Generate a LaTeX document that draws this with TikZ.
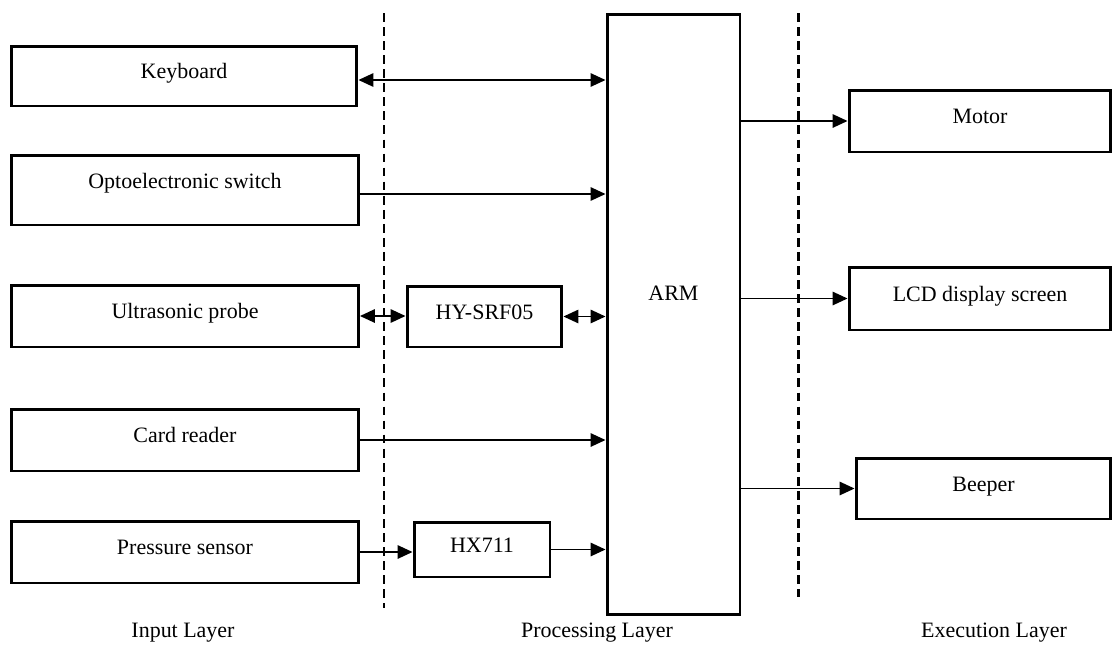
\documentclass[tikz,border=0pt]{standalone}
\usepackage{fontspec}
\setmainfont{Liberation Serif}
\usetikzlibrary{arrows.meta}
\begin{document}
\begin{tikzpicture}[x=0.02cm, y=-0.02cm,
    block/.style={draw, line width=1.7pt, inner sep=0pt, text height=0.7em, text depth=0.4em,
                  font=\fontsize{12.5}{15}\selectfont},
    link/.style={line width=0.9pt, -{Triangle[length=0.3cm, width=0.27cm]}},
    twoway/.style={link, {Triangle[length=0.3cm, width=0.27cm]}-{Triangle[length=0.3cm, width=0.27cm]}},
    layerline/.style={line width=1.7pt, dash pattern=on 5pt off 3pt},
    layertext/.style={font=\fontsize{12.5}{15}\selectfont}]
    \useasboundingbox (0,0) rectangle (1112,646);

    %Eingabe
    \node[block, minimum width=6.92cm, minimum height=1.2cm] (kb) at (184,76) {Keyboard};
    \node[block, minimum width=6.94cm, minimum height=1.4cm, text depth=0.85em] (opto) at (185,190) {Optoelectronic switch};
    \node[block, minimum width=6.94cm, minimum height=1.24cm] (ultra) at (185,316) {Ultrasonic probe};
    \node[block, minimum width=6.94cm, minimum height=1.24cm] (card) at (185,440) {Card reader};
    \node[block, minimum width=6.94cm, minimum height=1.24cm] (pres) at (185,552) {Pressure sensor};

    %Verarbeitung
    \node[block, minimum width=3.1cm, minimum height=1.22cm] (hy) at (484.5,316.5) {HY-SRF05};
    \node[block, minimum width=2.72cm, minimum height=1.1cm] (hx) at (482,549.5) {HX711};
    \node[block, minimum width=2.66cm, minimum height=12.02cm,
          label={[layertext, yshift=0.42cm]center:ARM}] (arm) at (673.5,314.5) {};

    %Ausgabe
    \node[block, minimum width=5.24cm, minimum height=1.24cm] (mot) at (980,121) {Motor};
    \node[block, minimum width=5.24cm, minimum height=1.26cm] (lcd) at (980,298.5) {LCD display screen};
    \node[block, minimum width=5.1cm, minimum height=1.22cm] (beep) at (983.5,488.5) {Beeper};

    %Schichtgrenzen
    \draw[layerline] (384,13) -- (384,608);
    \draw[layerline] (798,13) -- (798,597);

    %Verbindungen
    \draw[twoway] ([yshift=-0.08cm]kb.east) -- ([yshift=-0.08cm]kb.east -| arm.west);
    \draw[link] ([yshift=-0.08cm]opto.east) -- ([yshift=-0.08cm]opto.east -| arm.west);
    \draw[twoway] (ultra.east) -- (ultra.east -| hy.west);
    \draw[twoway] (hy.east) -- (hy.east -| arm.west);
    \draw[link] (card.east) -- (card.east -| arm.west);
    \draw[link] (pres.east) -- (pres.east -| hx.west);
    \draw[link] (hx.east) -- (hx.east -| arm.west);
    \draw[link] (arm.east |- mot.west) -- (mot.west);
    \draw[link] (arm.east |- lcd.west) -- (lcd.west);
    \draw[link] (arm.east |- beep.west) -- (beep.west);

    %Beschriftung
    \node[layertext] (inlayer) at (183,633) {Input Layer};
    \node[layertext] (proclayer) at (597,633) {Processing Layer};
    \node[layertext] (exelayer) at (994,633) {Execution Layer};
\end{tikzpicture}
\end{document}
